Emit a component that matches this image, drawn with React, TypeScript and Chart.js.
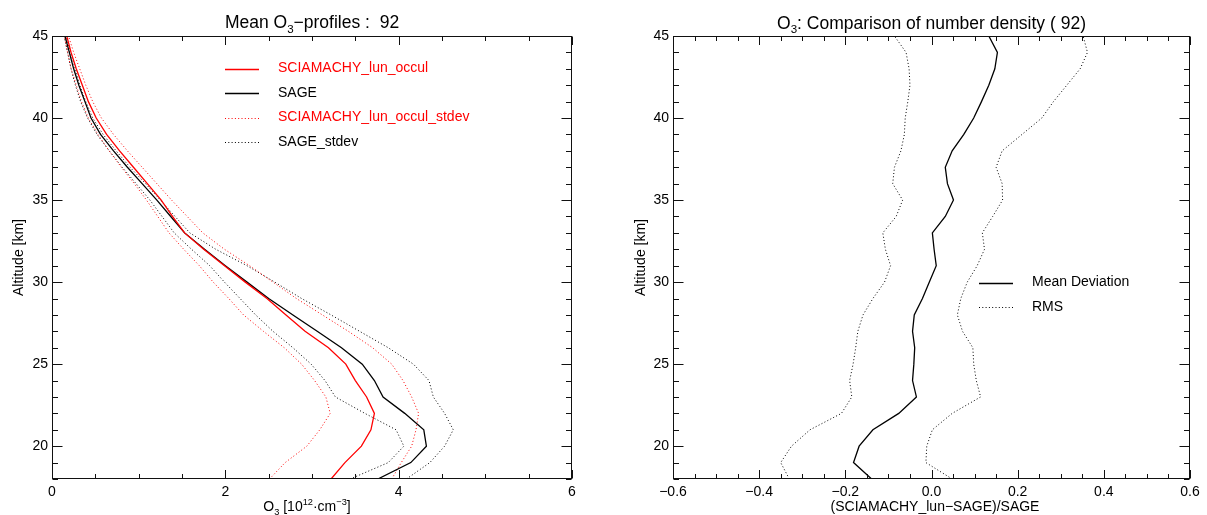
import React, { useEffect, useRef } from "react";
import { Chart, registerables } from "chart.js";

Chart.register(...registerables);

// ---------------- data ----------------
const altitudes = [18, 19, 20, 21, 22, 23, 24, 25, 26, 27, 28, 29, 30, 31, 32, 33, 34, 35, 36, 37, 38, 39, 40, 41, 42, 43, 44, 45];

// O3 number density [10^12 cm^-3]
const sciaMean = [3.22, 3.38, 3.57, 3.68, 3.72, 3.63, 3.50, 3.39, 3.19, 2.92, 2.70, 2.48, 2.23, 1.99, 1.75, 1.53, 1.39, 1.26, 1.10, 0.94, 0.78, 0.63, 0.51, 0.42, 0.35, 0.28, 0.22, 0.17];
const sageMean = [3.76, 4.14, 4.32, 4.29, 4.07, 3.82, 3.72, 3.58, 3.34, 3.06, 2.78, 2.50, 2.25, 2.00, 1.76, 1.53, 1.37, 1.21, 1.04, 0.87, 0.71, 0.56, 0.45, 0.38, 0.31, 0.25, 0.20, 0.15];
const sciaLow = [2.51, 2.69, 2.94, 3.09, 3.21, 3.16, 3.03, 2.88, 2.68, 2.44, 2.21, 2.04, 1.86, 1.70, 1.52, 1.35, 1.22, 1.09, 0.95, 0.80, 0.66, 0.53, 0.42, 0.34, 0.28, 0.22, 0.18, 0.14];
const sciaHigh = [3.92, 4.03, 4.15, 4.20, 4.23, 4.15, 4.05, 3.92, 3.70, 3.42, 3.12, 2.82, 2.55, 2.28, 1.99, 1.74, 1.56, 1.38, 1.21, 1.04, 0.87, 0.71, 0.57, 0.47, 0.39, 0.32, 0.25, 0.19];
const sageLow = [3.44, 3.88, 4.06, 3.97, 3.61, 3.27, 3.15, 2.99, 2.78, 2.55, 2.35, 2.17, 1.99, 1.82, 1.61, 1.41, 1.27, 1.13, 0.97, 0.81, 0.66, 0.52, 0.41, 0.33, 0.27, 0.22, 0.18, 0.14];
const sageHigh = [4.09, 4.36, 4.53, 4.63, 4.53, 4.40, 4.35, 4.17, 3.88, 3.55, 3.22, 2.88, 2.57, 2.25, 1.89, 1.59, 1.42, 1.25, 1.08, 0.90, 0.74, 0.59, 0.47, 0.39, 0.32, 0.27, 0.21, 0.16];

// relative deviation (SCIAMACHY_lun - SAGE)/SAGE
const meanDeviation = [-0.139, -0.181, -0.168, -0.136, -0.076, -0.035, -0.044, -0.041, -0.039, -0.044, -0.040, -0.021, -0.005, 0.011, 0.006, 0.002, 0.032, 0.051, 0.037, 0.032, 0.048, 0.075, 0.098, 0.116, 0.133, 0.147, 0.153, 0.133];
const rmsLow = [-0.330, -0.350, -0.325, -0.282, -0.209, -0.185, -0.190, -0.182, -0.176, -0.171, -0.159, -0.136, -0.109, -0.095, -0.107, -0.113, -0.082, -0.067, -0.090, -0.086, -0.071, -0.063, -0.061, -0.055, -0.050, -0.052, -0.059, -0.086];
const rmsHigh = [0.048, -0.013, -0.011, 0.002, 0.048, 0.114, 0.104, 0.098, 0.096, 0.072, 0.060, 0.068, 0.083, 0.106, 0.123, 0.118, 0.142, 0.165, 0.164, 0.150, 0.164, 0.210, 0.256, 0.283, 0.314, 0.345, 0.362, 0.352];

// ticks
const altTicks = [20, 25, 30, 35, 40, 45];
const densityTicks = [0, 2, 4, 6];
const deviationTicks = [-0.6, -0.4, -0.2, 0.0, 0.2, 0.4, 0.6];

const labelScia = "SCIAMACHY_lun_occul";
const labelSage = "SAGE";
const labelSciaStd = "SCIAMACHY_lun_occul_stdev";
const labelSageStd = "SAGE_stdev";
const labelMean = "Mean Deviation";
const labelRms = "RMS";

// ---------------- helpers ----------------
const FONT = '"Liberation Sans", Arial, Helvetica, sans-serif';
const RED = "#ff0000";
const BLACK = "#000000";

type Seg = { t: string; sub?: boolean; sup?: boolean };

function pts(xs: number[]) {
  return xs.map((v, i) => ({ x: v, y: altitudes[i] }));
}

function drawRich(ctx: CanvasRenderingContext2D, segs: Seg[], x: number, y: number, size: number, color: string) {
  ctx.save();
  let total = 0;
  const parts = segs.map((s) => {
    const fs = s.sub || s.sup ? size * 0.66 : size;
    ctx.font = `${fs}px ${FONT}`;
    const w = ctx.measureText(s.t).width;
    total += w;
    return { s, fs, w };
  });
  let cx = x - total / 2;
  ctx.fillStyle = color;
  ctx.textAlign = "left";
  ctx.textBaseline = "alphabetic";
  for (const p of parts) {
    ctx.font = `${p.fs}px ${FONT}`;
    const dy = p.s.sub ? size * 0.26 : p.s.sup ? -size * 0.4 : 0;
    ctx.fillText(p.s.t, cx, y + dy);
    cx += p.w;
  }
  ctx.restore();
}

type DecorCfg = {
  title: Seg[];
  titleY: number;
  xTitle: Seg[];
  xTitleX: number;
  xTitleY: number;
  yTitle: string;
  yTitleX: number;
  xMinorStep: number;
  yMinorStep: number;
  legend: { x0: number; x1: number; tx: number; y0: number; dy: number };
};

function makeDecor(cfg: DecorCfg) {
  return {
    id: "decor",
    afterDraw(chart: any) {
      const ctx: CanvasRenderingContext2D = chart.ctx;
      const a = chart.chartArea;
      const xs = chart.scales.x;
      const ys = chart.scales.y;
      const L = Math.round(a.left) + 0.5;
      const R = Math.round(a.right) - 0.5;
      const T = Math.round(a.top) + 0.5;
      const B = Math.round(a.bottom) - 0.5;
      ctx.save();
      ctx.strokeStyle = "#111";
      ctx.lineWidth = 1;
      ctx.setLineDash([]);
      ctx.strokeRect(L, T, R - L, B - T);
      // x ticks (inward, bottom and top)
      const xMajor = xs.ticks.map((t: any) => t.value);
      const nx = Math.round((xs.max - xs.min) / cfg.xMinorStep);
      ctx.beginPath();
      for (let i = 0; i <= nx; i++) {
        const v = xs.min + i * cfg.xMinorStep;
        const major = xMajor.some((m: number) => Math.abs(m - v) < 1e-9);
        const len = major ? 8.5 : 4.5;
        const px = Math.round(xs.getPixelForValue(v)) + 0.5;
        ctx.moveTo(px, B);
        ctx.lineTo(px, B - len);
        ctx.moveTo(px, T);
        ctx.lineTo(px, T + len);
      }
      // y ticks (inward, left and right)
      const yMajor = ys.ticks.map((t: any) => t.value);
      const ny = Math.round((ys.max - ys.min) / cfg.yMinorStep);
      for (let i = 0; i <= ny; i++) {
        const v = ys.min + i * cfg.yMinorStep;
        const major = yMajor.some((m: number) => Math.abs(m - v) < 1e-9);
        const len = major ? 10 : 5.5;
        const py = Math.round(ys.getPixelForValue(v)) + 0.5;
        ctx.moveTo(L, py);
        ctx.lineTo(L + len, py);
        ctx.moveTo(R, py);
        ctx.lineTo(R - len, py);
      }
      ctx.stroke();
      ctx.restore();

      // titles
      const cx = (a.left + a.right) / 2;
      drawRich(ctx, cfg.title, cx, cfg.titleY, 17.5, BLACK);
      drawRich(ctx, cfg.xTitle, cfg.xTitleX, cfg.xTitleY, 14, BLACK);
      ctx.save();
      ctx.translate(cfg.yTitleX, (a.top + a.bottom) / 2);
      ctx.rotate(-Math.PI / 2);
      ctx.font = `14px ${FONT}`;
      ctx.fillStyle = BLACK;
      ctx.textAlign = "center";
      ctx.textBaseline = "alphabetic";
      ctx.fillText(cfg.yTitle, 0, 0);
      ctx.restore();

      // legend inside plot
      const lg = cfg.legend;
      let row = 0;
      for (const ds of chart.data.datasets) {
        if (ds.legendSkip) continue;
        const y = lg.y0 + row * lg.dy;
        ctx.save();
        ctx.strokeStyle = ds.borderColor;
        ctx.lineWidth = ds.borderWidth;
        ctx.setLineDash(ds.borderDash || []);
        ctx.beginPath();
        ctx.moveTo(lg.x0, Math.round(y) + 0.5);
        ctx.lineTo(lg.x1, Math.round(y) + 0.5);
        ctx.stroke();
        ctx.font = `14px ${FONT}`;
        ctx.fillStyle = ds.legendTextColor || BLACK;
        ctx.textAlign = "left";
        ctx.textBaseline = "middle";
        ctx.fillText(ds.label, lg.tx, y);
        ctx.restore();
        row++;
      }
    },
  };
}

function fixedTicks(values: number[]) {
  return (scale: any) => {
    scale.ticks = values.map((v) => ({ value: v }));
  };
}

const tickFont = { family: FONT, size: 14 };

function lineDs(label: string, xs: number[], color: string, dotted: boolean, extra: any = {}) {
  return {
    label,
    data: pts(xs),
    borderColor: color,
    backgroundColor: color,
    borderWidth: dotted ? 1 : 1.3,
    borderDash: dotted ? [1, 2.3] : [],
    pointRadius: 0,
    pointHoverRadius: 0,
    fill: false,
    tension: 0,
    ...extra,
  };
}

function buildConfig(kind: "left" | "right") {
  const isLeft = kind === "left";
  const datasets = isLeft
    ? [
        lineDs(labelScia, sciaMean, RED, false, { legendTextColor: RED }),
        lineDs(labelSage, sageMean, BLACK, false),
        lineDs(labelSciaStd, sciaLow, RED, true, { legendTextColor: RED }),
        lineDs(labelSciaStd, sciaHigh, RED, true, { legendSkip: true }),
        lineDs(labelSageStd, sageLow, BLACK, true),
        lineDs(labelSageStd, sageHigh, BLACK, true, { legendSkip: true }),
      ]
    : [
        lineDs(labelMean, meanDeviation, BLACK, false),
        lineDs(labelRms, rmsLow, BLACK, true),
        lineDs(labelRms, rmsHigh, BLACK, true, { legendSkip: true }),
      ];

  const xTicks = isLeft ? densityTicks : deviationTicks;
  const yAxisWidth = isLeft ? 52 : 73;
  const rightPad = isLeft ? 28 : 17;

  const decor: DecorCfg = isLeft
    ? {
        title: [{ t: "Mean O" }, { t: "3", sub: true }, { t: "\u2212profiles :  92" }],
        titleY: 28,
        xTitle: [{ t: "O" }, { t: "3", sub: true }, { t: " [10" }, { t: "12", sup: true }, { t: "\u00b7cm" }, { t: "\u22123", sup: true }, { t: "]" }],
        xTitleX: 307,
        xTitleY: 511,
        yTitle: "Altitude [km]",
        yTitleX: 23,
        xMinorStep: 0.5,
        yMinorStep: 1,
        legend: { x0: 225, x1: 259, tx: 278, y0: 68.5, dy: 24.5 },
      }
    : {
        title: [{ t: "O" }, { t: "3", sub: true }, { t: ": Comparison of number density ( 92)" }],
        titleY: 28.5,
        xTitle: [{ t: "(SCIAMACHY_lun\u2212SAGE)/SAGE" }],
        xTitleX: 335,
        xTitleY: 511,
        yTitle: "Altitude [km]",
        yTitleX: 45,
        xMinorStep: 0.05,
        yMinorStep: 1,
        legend: { x0: 379, x1: 413, tx: 432, y0: 282.5, dy: 24.5 },
      };

  return {
    type: "line" as const,
    data: { datasets },
    options: {
      responsive: false,
      animation: false,
      parsing: true,
      layout: { padding: { top: 36, right: rightPad, left: 0, bottom: 0 } },
      plugins: {
        legend: { display: false },
        title: { display: false },
        tooltip: { enabled: false },
      },
      events: [],
      scales: {
        x: {
          type: "linear",
          min: isLeft ? 0 : -0.6,
          max: isLeft ? 6 : 0.6,
          afterBuildTicks: fixedTicks(xTicks),
          afterFit: (s: any) => {
            s.height = 36;
          },
          grid: { display: false, drawTicks: false },
          border: { display: false },
          ticks: {
            font: tickFont,
            color: BLACK,
            padding: 5,
            maxRotation: 0,
            autoSkip: false,
            callback: (v: number) =>
              isLeft ? String(Math.round(v)) : (Math.abs(v) < 1e-9 ? "0.0" : v.toFixed(1).replace("-", "\u2212")),
          },
        },
        y: {
          type: "linear",
          min: 18,
          max: 45,
          afterBuildTicks: fixedTicks(altTicks),
          afterFit: (s: any) => {
            s.width = yAxisWidth;
          },
          grid: { display: false, drawTicks: false },
          border: { display: false },
          ticks: {
            font: tickFont,
            color: BLACK,
            padding: 4,
            autoSkip: false,
            callback: (v: number) => String(v),
          },
        },
      },
    },
    plugins: [makeDecor(decor)],
  };
}

function ChartCanvas({ kind, left, width }: { kind: "left" | "right"; left: number; width: number }) {
  const ref = useRef<HTMLCanvasElement | null>(null);
  useEffect(() => {
    if (!ref.current) return;
    const chart = new Chart(ref.current, buildConfig(kind) as any);
    return () => chart.destroy();
  }, [kind]);
  return (
    <canvas
      ref={ref}
      width={width}
      height={515}
      style={{ position: "absolute", left, top: 0, width, height: 515, display: "block" }}
    />
  );
}

export default function App() {
  return (
    <div style={{ position: "absolute", left: 0, top: 0, width: 1207, height: 515, background: "#fff", overflow: "hidden" }}>
      <ChartCanvas kind="left" left={0} width={600} />
      <ChartCanvas kind="right" left={600} width={607} />
    </div>
  );
}
